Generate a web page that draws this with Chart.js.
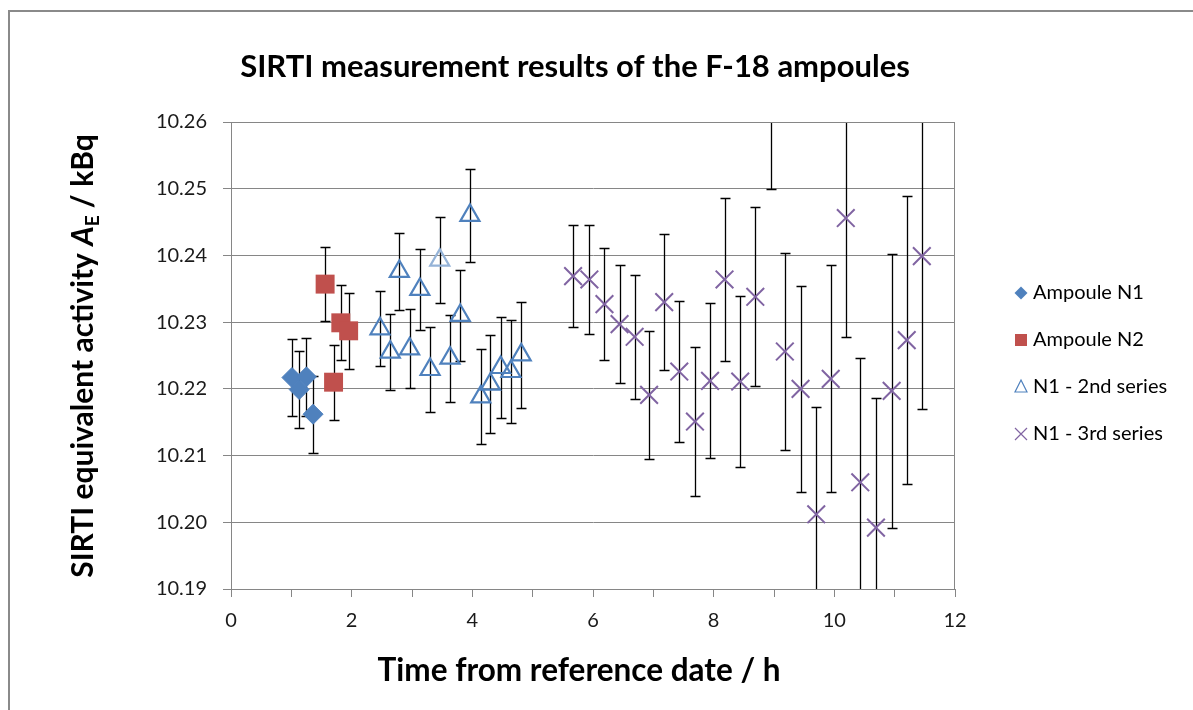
<!DOCTYPE html>
<html>
<head>
<meta charset="utf-8">
<script src="https://cdn.jsdelivr.net/npm/chart.js@4/dist/chart.umd.min.js"></script>
<style>
  body { margin: 0; background: #fff; }
  canvas { display: block; }
</style>
</head>
<body>
<canvas id="chart" width="1193" height="710"></canvas>
<script>
// values (time in h, activity in kBq, error = half bar length)
const seriesNames = ['Ampoule N1', 'Ampoule N2', 'N1 - 2nd series', 'N1 - 3rd series'];

const n1X = [1.01, 1.13, 1.25, 1.36];
const n1Y = [10.2217, 10.2199, 10.2218, 10.2162];
const n1Err = [0.0058, 0.0057, 0.0058, 0.0058];

const n2X = [1.56, 1.70, 1.82, 1.95];
const n2Y = [10.2357, 10.2210, 10.2299, 10.2287];
const n2Err = [0.0055, 0.0056, 0.0056, 0.0057];

const s2X = [2.47, 2.64, 2.79, 2.96, 3.13, 3.30, 3.46, 3.63, 3.80, 3.96, 4.14, 4.30, 4.47, 4.64, 4.81];
const s2Y = [10.2290, 10.2255, 10.2376, 10.2260, 10.2349, 10.2229, 10.2393, 10.2246, 10.2310, 10.2460,
             10.2188, 10.2207, 10.2232, 10.2226, 10.2251];
const s2Err = [0.0056, 0.0057, 0.0058, 0.0059, 0.0061, 0.0063, 0.0065, 0.0065, 0.0068, 0.0070,
               0.0071, 0.0073, 0.0076, 0.0077, 0.0079];

const s3X = [5.67, 5.94, 6.19, 6.44, 6.69, 6.93, 7.18, 7.43, 7.69, 7.94, 8.18, 8.44,
             8.69, 8.95, 9.18, 9.44, 9.70, 9.94, 10.19, 10.43, 10.69, 10.95, 11.20, 11.45];
const s3Y = [10.2369, 10.2364, 10.2327, 10.2297, 10.2278, 10.2191, 10.2330, 10.2226, 10.2151, 10.2212, 10.2364, 10.2211,
             10.2338, 10.2639, 10.2256, 10.2200, 10.2012, 10.2215, 10.2456, 10.2060, 10.1992, 10.2197, 10.2273, 10.2399];
const s3Err = [0.0077, 0.0082, 0.0084, 0.0088, 0.0093, 0.0096, 0.0102, 0.0106, 0.0112, 0.0116, 0.0122, 0.0128,
               0.0134, 0.0140, 0.0148, 0.0154, 0.0161, 0.0170, 0.0178, 0.0186, 0.0195, 0.0205, 0.0216, 0.0229];

const errors = [n1Err, n2Err, s2Err, s3Err];

const BLUE = '#4F81BD';
const LIGHT_BLUE = '#95B3D7';
const RED = '#C0504D';
const PURPLE = '#8064A2';
const GRID = '#868686';

const toPoints = (xs, ys) => xs.map((x, i) => ({ x: x, y: ys[i] }));

// error bars go under the markers, clipped to the plot area
const errorBars = {
  id: 'errorBars',
  beforeDatasetsDraw(chart) {
    const { ctx, chartArea: a, scales: { x, y } } = chart;
    ctx.save();
    ctx.beginPath();
    ctx.rect(a.left, a.top, a.right - a.left, a.bottom - a.top);
    ctx.clip();
    ctx.strokeStyle = '#000';
    ctx.lineWidth = 1.3;
    chart.data.datasets.forEach((ds, d) => {
      ds.data.forEach((p, i) => {
        const px = Math.round(x.getPixelForValue(p.x)) + 0.5;
        const top = Math.round(y.getPixelForValue(p.y + errors[d][i])) + 0.5;
        const bot = Math.round(y.getPixelForValue(p.y - errors[d][i])) + 0.5;
        ctx.beginPath();
        ctx.moveTo(px, top);
        ctx.lineTo(px, bot);
        ctx.moveTo(px - 5, top);
        ctx.lineTo(px + 5, top);
        ctx.moveTo(px - 5, bot);
        ctx.lineTo(px + 5, bot);
        ctx.stroke();
      });
    });
    ctx.restore();

    // plot area frame
    ctx.save();
    ctx.strokeStyle = GRID;
    ctx.lineWidth = 1;
    ctx.strokeRect(a.left + 0.5, a.top + 0.5, a.right - a.left - 1, a.bottom - a.top);
    ctx.restore();
  }
};

// titles, legend and the outer chart border
const decorations = {
  id: 'decorations',
  afterDraw(chart) {
    const ctx = chart.ctx;
    ctx.save();

    ctx.strokeStyle = '#8a8a8a';
    ctx.lineWidth = 2;
    ctx.beginPath();
    ctx.moveTo(9, 710);
    ctx.lineTo(9, 11);
    ctx.lineTo(1193, 11);
    ctx.stroke();

    ctx.fillStyle = '#000';
    ctx.textBaseline = 'alphabetic';
    ctx.textAlign = 'center';
    ctx.font = 'bold 31px Lato';
    ctx.fillText('SIRTI measurement results of the F-18 ampoules', 575, 77);

    ctx.font = 'bold 31.5px Lato';
    ctx.fillText('Time from reference date / h', 579, 681);

    // y title with italic A and subscript E
    const f = 30;
    const parts = [
      { t: 'SIRTI equivalent activity ', font: `bold ${f}px Lato`, dy: 0 },
      { t: 'A', font: `italic bold ${f}px Lato`, dy: 0 },
      { t: 'E', font: `bold ${Math.round(f * 0.62)}px Lato`, dy: 6 },
      { t: ' / kBq', font: `bold ${f}px Lato`, dy: 0 }
    ];
    ctx.textAlign = 'left';
    let total = 0;
    parts.forEach(p => { ctx.font = p.font; p.w = ctx.measureText(p.t).width; total += p.w; });
    ctx.translate(93, 356);
    ctx.rotate(-Math.PI / 2);
    let cx = -total / 2;
    parts.forEach(p => {
      ctx.font = p.font;
      ctx.fillText(p.t, cx, p.dy);
      cx += p.w;
    });
    ctx.setTransform(1, 0, 0, 1, 0, 0);

    // legend
    const lx = 1021;
    const rows = [293, 340, 387, 434];
    ctx.font = '20px Lato';
    ctx.textBaseline = 'middle';
    ctx.fillStyle = '#000';
    seriesNames.forEach((name, i) => ctx.fillText(name, 1033, rows[i]));

    ctx.fillStyle = BLUE;
    ctx.beginPath();
    ctx.moveTo(lx - 6.5, rows[0]);
    ctx.lineTo(lx, rows[0] - 6.5);
    ctx.lineTo(lx + 6.5, rows[0]);
    ctx.lineTo(lx, rows[0] + 6.5);
    ctx.closePath();
    ctx.fill();

    ctx.fillStyle = RED;
    ctx.fillRect(lx - 6, rows[1] - 6, 12, 12);

    ctx.strokeStyle = BLUE;
    ctx.lineWidth = 1.2;
    ctx.beginPath();
    ctx.moveTo(lx, rows[2] - 7);
    ctx.lineTo(lx + 6, rows[2] + 5);
    ctx.lineTo(lx - 6, rows[2] + 5);
    ctx.closePath();
    ctx.stroke();

    ctx.strokeStyle = PURPLE;
    ctx.beginPath();
    ctx.moveTo(lx - 6, rows[3] - 6);
    ctx.lineTo(lx + 6, rows[3] + 6);
    ctx.moveTo(lx + 6, rows[3] - 6);
    ctx.lineTo(lx - 6, rows[3] + 6);
    ctx.stroke();

    ctx.restore();
  }
};

const s2Colors = s2X.map((_, i) => i === 6 ? LIGHT_BLUE : BLUE);

new Chart(document.getElementById('chart'), {
  type: 'scatter',
  data: {
    datasets: [
      {
        label: seriesNames[0],
        data: toPoints(n1X, n1Y),
        pointStyle: 'rectRot',
        pointRadius: 10,
        backgroundColor: BLUE,
        borderColor: BLUE,
        pointBorderWidth: 1,
        clip: 0
      },
      {
        label: seriesNames[1],
        data: toPoints(n2X, n2Y),
        pointStyle: 'rect',
        pointRadius: 13.4,
        backgroundColor: RED,
        borderColor: RED,
        pointBorderWidth: 0,
        clip: 0
      },
      {
        label: seriesNames[2],
        data: toPoints(s2X, s2Y),
        pointStyle: 'triangle',
        pointRadius: 11,
        backgroundColor: 'rgba(0,0,0,0)',
        pointBorderColor: s2Colors,
        borderColor: BLUE,
        pointBorderWidth: 2.2,
        clip: 0
      },
      {
        label: seriesNames[3],
        data: toPoints(s3X, s3Y),
        pointStyle: 'crossRot',
        pointRadius: 12.5,
        borderColor: PURPLE,
        pointBorderWidth: 2,
        clip: 0
      }
    ]
  },
  options: {
    responsive: false,
    devicePixelRatio: 1,
    animation: false,
    events: [],
    layout: {
      padding: { left: 0, top: 122, right: 238, bottom: 0 }
    },
    scales: {
      x: {
        type: 'linear',
        min: 0,
        max: 12,
        afterFit: s => { s.height = 121; },
        ticks: {
          stepSize: 1,
          padding: 12,
          color: '#1a1a1a',
          font: { family: 'Lato', size: 20 },
          callback: v => v % 2 === 0 ? v : ''
        },
        grid: { drawOnChartArea: false, color: GRID, tickLength: 8 },
        border: { color: GRID }
      },
      y: {
        type: 'linear',
        min: 10.19,
        max: 10.26,
        afterFit: s => { s.width = 231; },
        ticks: {
          stepSize: 0.01,
          padding: 16,
          color: '#1a1a1a',
          font: { family: 'Lato', size: 20 },
          callback: v => v.toFixed(2)
        },
        grid: { color: GRID, tickLength: 8 },
        border: { color: GRID }
      }
    },
    plugins: {
      legend: { display: false },
      title: { display: false },
      tooltip: { enabled: false }
    }
  },
  plugins: [errorBars, decorations]
});
</script>
</body>
</html>
